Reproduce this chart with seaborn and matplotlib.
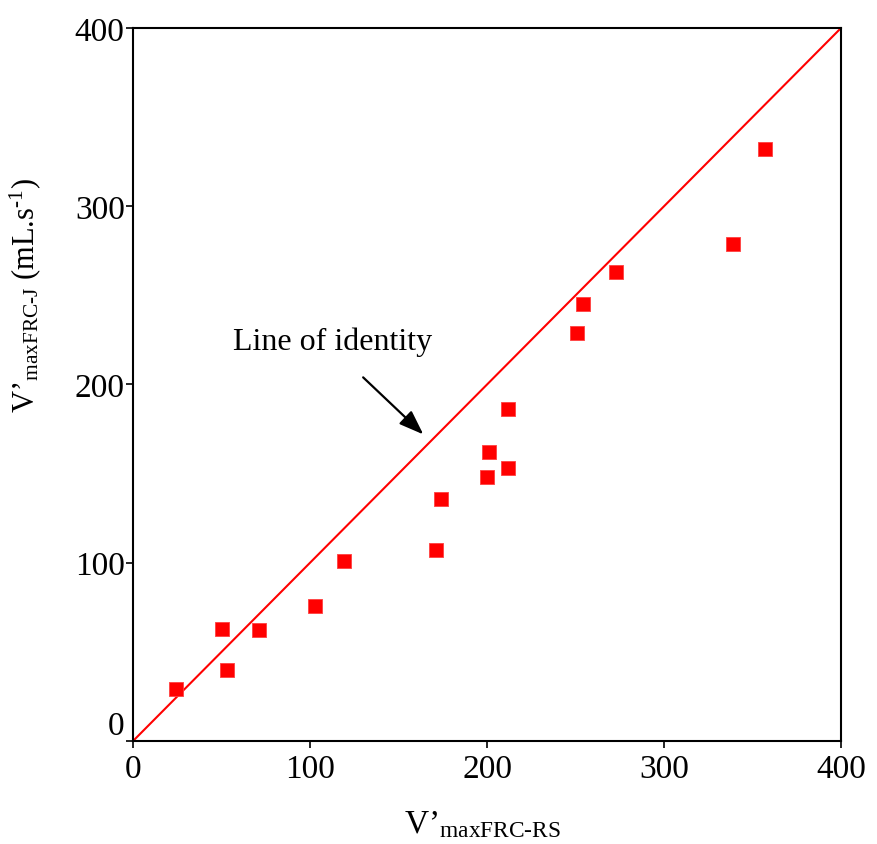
import matplotlib
matplotlib.use('Agg')
import matplotlib.pyplot as plt
import seaborn as sns
import pandas as pd

# values
rs_flow = [24, 50, 53, 71, 103, 119, 171, 174, 200, 201, 212, 212, 251, 254, 273, 339, 357]
j_flow = [29, 63, 40, 62, 76, 101, 107, 136, 148, 162, 153, 186, 229, 245, 263, 279, 332]
ticks = [0, 100, 200, 300, 400]

df = pd.DataFrame({'rs': rs_flow, 'j': j_flow})

sns.set_style('white')
plt.rcParams['font.family'] = ['Liberation Serif', 'DejaVu Serif']
plt.rcParams['mathtext.fontset'] = 'custom'
plt.rcParams['mathtext.rm'] = 'Liberation Serif'
plt.rcParams['mathtext.it'] = 'Liberation Serif'
plt.rcParams['text.color'] = 'black'
plt.rcParams['axes.labelcolor'] = 'black'

fig = plt.figure(figsize=(8.77, 8.45), dpi=100)
ax = fig.add_axes([0.1517, 0.1219, 0.8073, 0.8438])

# line of identity
ax.plot([0, 400], [0, 400], color='red', lw=1.5, zorder=2)

sns.scatterplot(data=df, x='rs', y='j', marker='s', s=110, color='red',
                edgecolor='#ff4040', linewidth=0.6, ax=ax, zorder=3)

ax.set_xlim(0, 400)
ax.set_ylim(0, 400)
ax.set_xticks(ticks)
ax.set_yticks(ticks)
ax.tick_params(axis='both', direction='out', length=5, width=1.2, labelsize=24,
               bottom=True, left=True, colors='black')
ax.tick_params(axis='y', pad=1)
ax.tick_params(axis='x', pad=4)
ax.get_yticklabels()[0].set_va('bottom')
for sp in ax.spines.values():
    sp.set_color('black')
    sp.set_linewidth(1.5)

ax.set_xlabel('V’$_{\\mathrm{maxFRC‐RS}}$', fontsize=24, color='black')
ax.xaxis.set_label_coords(0.493, -0.095)
ax.set_ylabel('V’$_{\\mathrm{maxFRC‐J}}$ (mL.s$^{\\mathrm{‐1}}$)', fontsize=22, color='black')
ax.yaxis.set_label_coords(-0.127, 0.626)

ax.text(56.5, 224, 'Line of identity', fontsize=23, va='center', ha='left', color='black')
ax.annotate('', xy=(164, 172), xytext=(130, 204),
            arrowprops=dict(arrowstyle='-|>,head_length=0.6,head_width=0.22',
                            color='black', lw=1.6, mutation_scale=25,
                            shrinkA=0, shrinkB=0))

fig.savefig('out.png', dpi=100)
